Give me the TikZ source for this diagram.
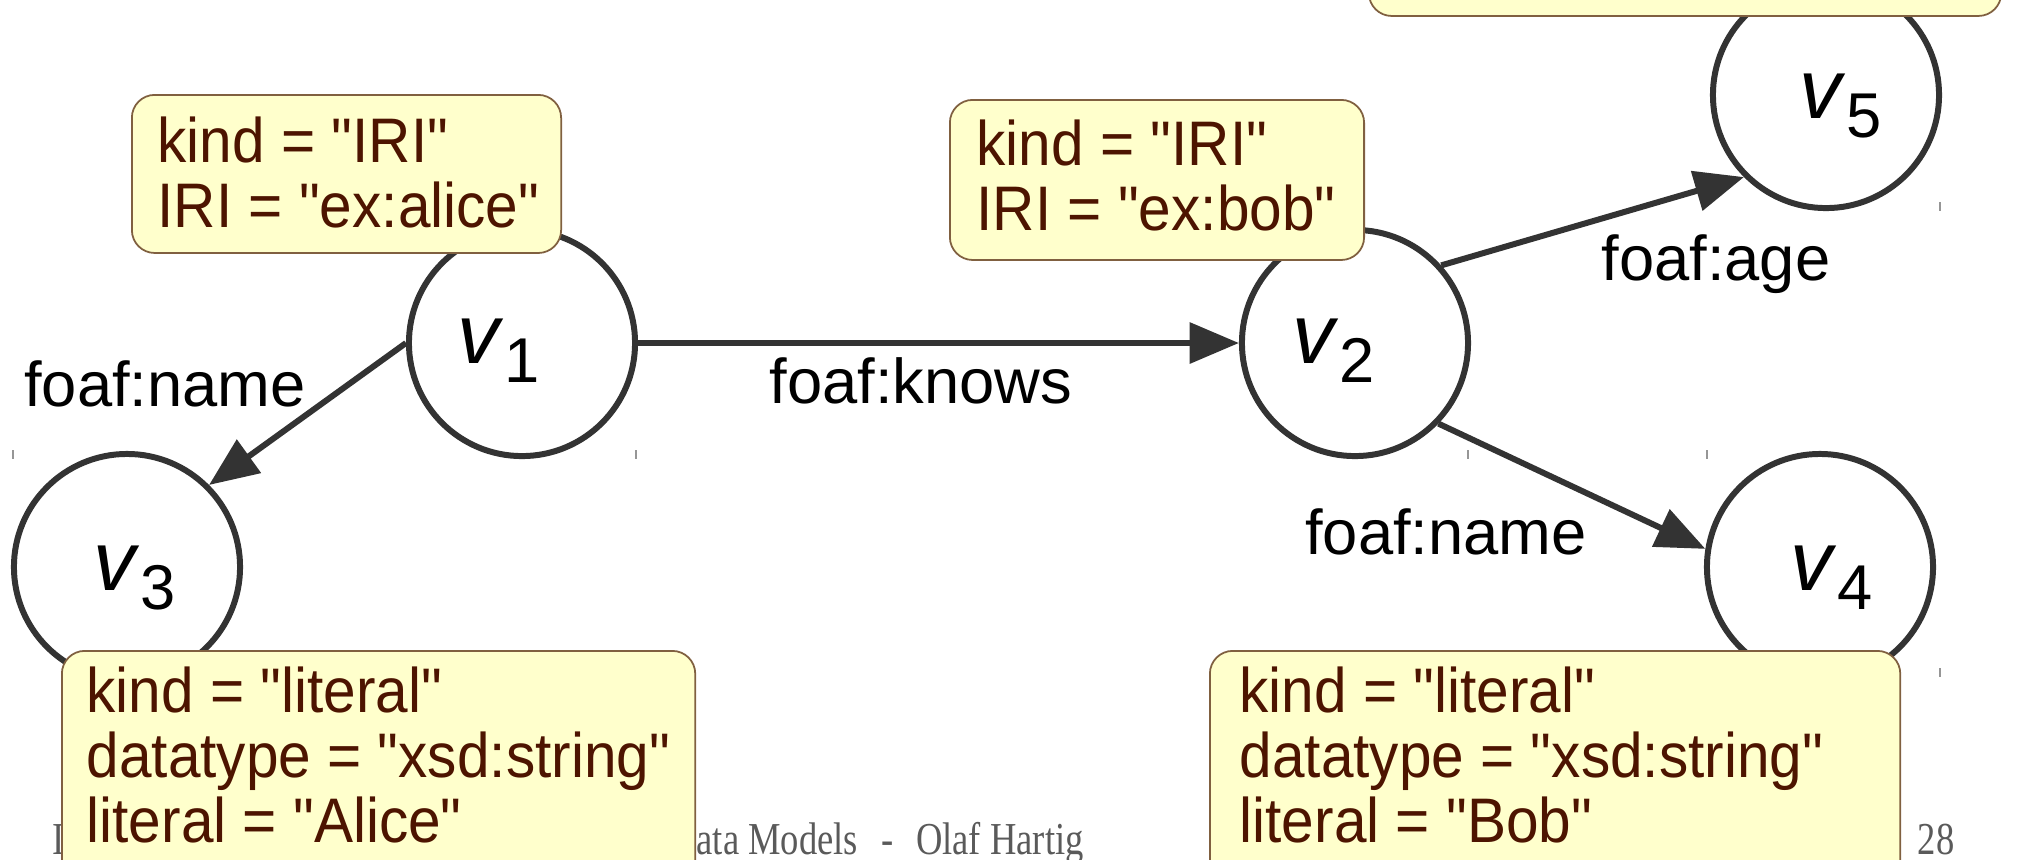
\documentclass[tikz,border=0pt]{standalone}
\usepackage{fontspec}
\setmainfont{Liberation Sans}
\newfontfamily\notefont{Liberation Sans}[FakeStretch=0.93]
\newfontfamily\footfont{Liberation Serif}[FakeStretch=0.80]
\usetikzlibrary{arrows.meta}
\definecolor{notefill}{RGB}{255,255,204}
\definecolor{notedraw}{RGB}{128,96,64}
\definecolor{notetext}{RGB}{77,20,0}
\definecolor{ink}{RGB}{51,51,51}
\definecolor{footgray}{RGB}{90,90,90}
\definecolor{handle}{RGB}{150,150,150}
% left-aligned lines whose baseline is that of the first line
\newcommand\notelines[1]{\vtop{\baselineskip=18.5pt\halign{##\hfil\cr#1\crcr}}}
% vertex name: italic v with a lowered index
\newcommand\vlab[1]{{\fontsize{24}{24}\selectfont\itshape v}\kern1.2pt{\fontsize{18}{18}\selectfont\raisebox{-5.5pt}{#1}}}
\tikzset{
  vert/.style={circle, draw=ink, fill=white, line width=1.7pt, minimum size=2.26cm, inner sep=0pt},
  vname/.style={anchor=base west, inner sep=0pt, text=black},
  edge/.style={draw=ink, line width=1.7pt, -{Triangle[length=14pt,width=11.4pt]}},
  elab/.style={anchor=base, inner sep=0pt, font=\fontsize{18}{18}\selectfont, text=black},
  note/.style={rectangle, rounded corners=6.5pt, draw=notedraw, line width=0.5pt, fill=notefill, anchor=north west, inner sep=0pt},
  notetxt/.style={anchor=base west, inner sep=0pt, text=notetext, font=\notefont\fontsize{17.9}{18.5}\selectfont},
  foot/.style={inner sep=0pt, text=footgray, font=\footfont\fontsize{13}{14}\selectfont},
  handlemark/.style={draw=handle, line width=0.35pt}
}
\begin{document}
\begin{tikzpicture}[x=0.01cm, y=-0.01cm]
\useasboundingbox (0,0) rectangle (2020,859);

% footer line of the slide
\node[foot, anchor=base west] (footA) at (52,854) {I};
\node[foot, anchor=base west] (footB) at (696,854) {ata Models\hspace{0.5em}-\hspace{0.5em}Olaf Hartig};
\node[foot, anchor=base east] (page) at (1955,854) {28};

% selection handles
\draw[handlemark] (13,450) -- (13,459);
\draw[handlemark] (636,450) -- (636,459);
\draw[handlemark] (1468,450) -- (1468,459);
\draw[handlemark] (1707,450) -- (1707,459);
\draw[handlemark] (1940,202) -- (1940,211);
\draw[handlemark] (1940,668) -- (1940,677);

% vertices
\node[vert] (v1) at (522,343) {};
\node[vert] (v2) at (1355,343) {};
\node[vert] (v3) at (127,567) {};
\node[vert] (v4) at (1820,567) {};
\node[vert] (v5) at (1826,95) {};

\node[vname] (v1n) at (457,363) {\vlab{1}};
\node[vname] (v2n) at (1292,363) {\vlab{2}};
\node[vname] (v3n) at (93,590) {\vlab{3}};
\node[vname] (v4n) at (1790,590) {\vlab{4}};
\node[vname] (v5n) at (1799,118) {\vlab{5}};

% edges
\draw[edge] (v1.east) -- (v2.west);
\draw[edge] (v1.west) -- (v3.45);
\draw[edge] (v2.42) -- (v5.225);
\draw[edge] (v2.-44) -- (v4.171);

\node[elab] (e12) at (921,403) {foaf:knows};
\node[elab] (e13) at (165,406) {foaf:name};
\node[elab] (e25) at (1716,280) {foaf:age};
\node[elab] (e24) at (1446,554) {foaf:name};

% property annotations
\node[note, minimum width=4.29cm, minimum height=1.58cm] (n1) at (131,94) {};
\node[notetxt] (t1) at (157,162) {\notelines{kind = "IRI"\cr IRI = "ex:alice"}};

\node[note, minimum width=4.14cm, minimum height=1.60cm] (n2) at (949,99) {};
\node[notetxt] (t2) at (976,165) {\notelines{kind = "IRI"\cr IRI = "ex:bob"}};

\node[note, minimum width=6.32cm, minimum height=1.35cm] (n5) at (1368,-120) {};

\node[note, minimum width=6.33cm, minimum height=2.50cm] (n3) at (61,650) {};
\node[notetxt] (t3) at (86,712) {\notelines{kind = "literal"\cr datatype = "xsd:string"\cr literal = "Alice"}};

\node[note, minimum width=6.90cm, minimum height=2.50cm] (n4) at (1209,650) {};
\node[notetxt] (t4) at (1239,712) {\notelines{kind = "literal"\cr datatype = "xsd:string"\cr literal = "Bob"}};
\end{tikzpicture}
\end{document}
